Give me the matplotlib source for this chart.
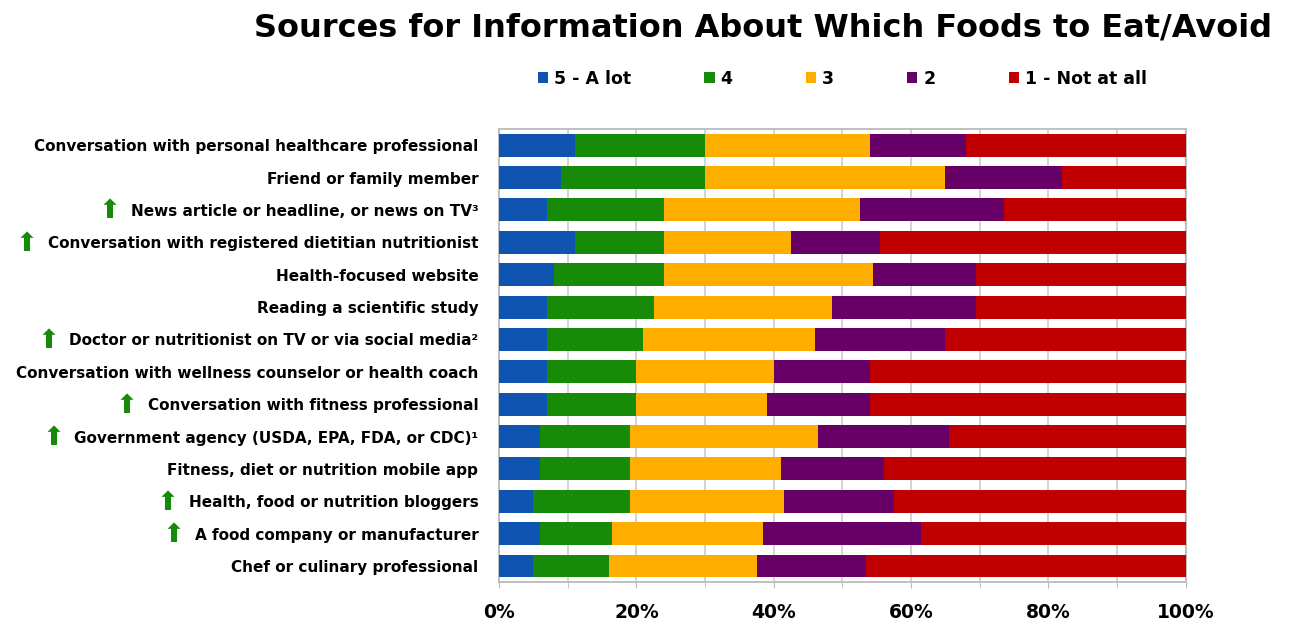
import matplotlib
matplotlib.use("Agg")
import matplotlib.pyplot as plt
from matplotlib.ticker import MultipleLocator, PercentFormatter
from matplotlib.transforms import IdentityTransform
import numpy as np

# data (percent of respondents)
sources = [
    "Conversation with personal healthcare professional",
    "Friend or family member",
    "News article or headline, or news on TV\u00b3",
    "Conversation with registered dietitian nutritionist",
    "Health-focused website",
    "Reading a scientific study",
    "Doctor or nutritionist on TV or via social media\u00b2",
    "Conversation with wellness counselor or health coach",
    "Conversation with fitness professional",
    "Government agency (USDA, EPA, FDA, or CDC)\u00b9",
    "Fitness, diet or nutrition mobile app",
    "Health, food or nutrition bloggers",
    "A food company or manufacturer",
    "Chef or culinary professional",
]
# which sources got the green "up" arrow
trend_up = [False, False, True, True, False, False, True,
            False, True, True, False, True, True, False]

a_lot = [11, 9, 7, 11, 8, 7, 7, 7, 7, 6, 6, 5, 6, 5]
four = [19, 21, 17, 13, 16, 15.5, 14, 13, 13, 13, 13, 14, 10.5, 11]
three = [24, 35, 28.5, 18.5, 30.5, 26, 25, 20, 19, 27.5, 22, 22.5, 22, 21.5]
two = [14, 17, 21, 13, 15, 21, 19, 14, 15, 19, 15, 16, 23, 16]
not_at_all = [32, 18, 26.5, 44.5, 30.5, 30.5, 35, 46, 46, 34.5, 44, 42.5, 38.5, 46.5]

series_names = ["5 - A lot", "4", "3", "2", "1 - Not at all"]
series_colors = ["#0E54B0", "#188A0A", "#FFAE00", "#660066", "#C00000"]

fig = plt.figure(figsize=(12.93, 6.26), dpi=100)
ax = fig.add_axes([0.386, 0.070, 0.531, 0.724])

y = np.arange(len(sources))
left = np.zeros(len(sources))
for vals, name, col in zip([a_lot, four, three, two, not_at_all], series_names, series_colors):
    vals = np.array(vals) / 100.0
    ax.barh(y, vals, left=left, height=0.71, color=col, label=name, zorder=3)
    left += vals

ax.set_xlim(0, 1)
ax.set_ylim(len(sources) - 0.5, -0.5)
ax.set_yticks(y)
ax.set_yticklabels(sources, fontsize=11, fontweight='bold')
ax.tick_params(axis='y', length=0, pad=15)

ax.xaxis.set_major_locator(MultipleLocator(0.2))
ax.xaxis.set_minor_locator(MultipleLocator(0.1))
ax.xaxis.set_major_formatter(PercentFormatter(1.0, decimals=0))
ax.tick_params(axis='x', which='both', length=4, color='#BBBBBB', pad=11,
               labelsize=13.5)
for lbl in ax.get_xticklabels():
    lbl.set_fontweight('bold')
ax.grid(axis='x', which='both', color='#D0D0D0', linewidth=1.3, zorder=0)
for sp in ax.spines.values():
    sp.set_color('#BBBBBB')
    sp.set_linewidth(1.3)

fig.text(0.59, 0.955, "Sources for Information About Which Foods to Eat/Avoid",
         ha='center', va='center', fontsize=23, fontweight='bold')

ax.legend(loc='center', bbox_to_anchor=(0.5, 1.11), ncol=5, frameon=False,
          prop={'weight': 'bold', 'size': 12.5}, handlelength=0.6,
          handleheight=0.6, handletextpad=0.35, columnspacing=4.2)

# green arrows in front of the flagged labels
fig.canvas.draw()
renderer = fig.canvas.get_renderer()
for lbl, up in zip(ax.get_yticklabels(), trend_up):
    if not up:
        continue
    bb = lbl.get_window_extent(renderer)
    fig.text(bb.x0 - 21, (bb.y0 + bb.y1) / 2, "\u2b06", transform=IdentityTransform(),
             ha='center', va='center', fontsize=19, color='#188A0A')

plt.savefig("out.png", dpi=100)
plt.close()
